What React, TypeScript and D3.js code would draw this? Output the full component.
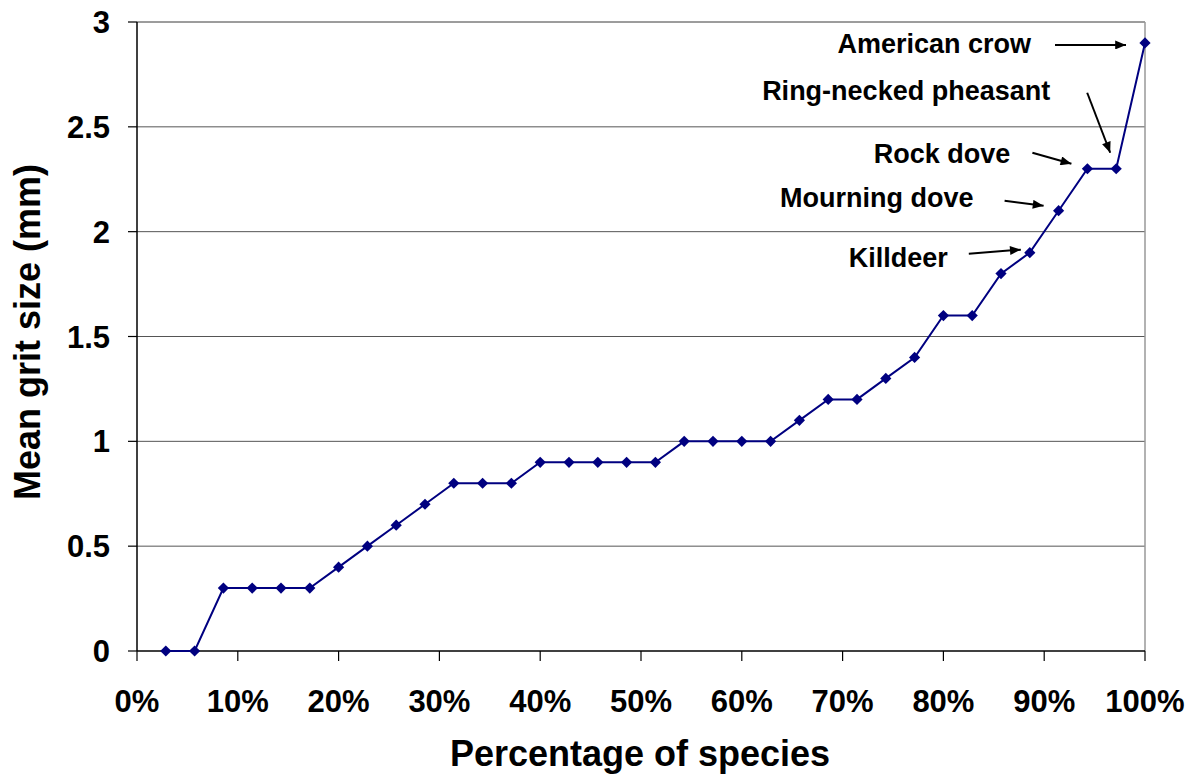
import React from "react";
import * as d3 from "d3";

// ---- data ----
const speciesRank: number[] = Array.from({ length: 35 }, (_, i) => i + 1);
const grit: number[] = [
  0, 0, 0.3, 0.3, 0.3, 0.3, 0.4, 0.5, 0.6, 0.7, 0.8, 0.8, 0.8, 0.9, 0.9, 0.9, 0.9, 0.9,
  1.0, 1.0, 1.0, 1.0, 1.1, 1.2, 1.2, 1.3, 1.4, 1.6, 1.6, 1.8, 1.9, 2.1, 2.3, 2.3, 2.9,
];
const xTicks: number[] = [0, 0.1, 0.2, 0.3, 0.4, 0.5, 0.6, 0.7, 0.8, 0.9, 1.0];
const yTicks: number[] = [0, 0.5, 1, 1.5, 2, 2.5, 3];
const annotLabels: string[] = ["American crow", "Ring-necked pheasant", "Rock dove", "Mourning dove", "Killdeer"];
const annotIndex: number[] = [34, 33, 32, 31, 30];

// ---- layout (not data) ----
const W = 1198, H = 784;
const M = { left: 137, right: 1145, top: 22, bottom: 651 };
// head offset from point, tail offset from head, text anchor (end) offset from tail
const annotLayout = [
  { hx: -19, hy: 2, tx: -71, ty: 0, lx: -24, ly: 8 },
  { hx: -6, hy: -16, tx: -23, ty: -60, lx: -37, ly: 7 },
  { hx: -16, hy: -5, tx: -39, ty: -11, lx: -22, ly: 10 },
  { hx: -15, hy: -5, tx: -39, ty: -5, lx: -31, ly: 6 },
  { hx: -9, hy: -3, tx: -52, ty: 4, lx: -21, ly: 13 },
];

const FONT = "'Liberation Sans', Arial, Helvetica, sans-serif";
const NAVY = "#000080";

export default function App() {
  const n = speciesRank.length;
  const x = d3.scaleLinear().domain([0, 1]).range([M.left, M.right]);
  const y = d3.scaleLinear().domain([0, 3]).range([M.bottom, M.top]);
  const pts = speciesRank.map((r, i) => [r / n, grit[i]] as [number, number]);
  const line = d3.line<[number, number]>().x((d) => x(d[0])).y((d) => y(d[1]));
  const diamond = d3.symbol().type(d3.symbolDiamond2).size(80)();
  const pct = d3.format(".0%");

  return (
    <svg width={W} height={H} style={{ position: "absolute", left: 0, top: 0, background: "#fff" }}>
      <defs>
        <marker id="ah2" viewBox="0 0 12 10" refX="12" refY="5" markerWidth="12" markerHeight="9" orient="auto" markerUnits="userSpaceOnUse">
          <path d="M0,0 L12,5 L0,10 z" fill="#000" />
        </marker>
      </defs>
      {/* gridlines */}
      {yTicks.filter((t) => t > 0).map((t) => (
        <line key={"g" + t} x1={M.left} x2={M.right} y1={y(t)} y2={y(t)} stroke="#555" strokeWidth={1} />
      ))}
      {/* plot border */}
      <line x1={M.right} x2={M.right} y1={M.top} y2={M.bottom} stroke="#999" strokeWidth={1.5} />
      <line x1={M.left} x2={M.right} y1={M.top} y2={M.top} stroke="#999" strokeWidth={1.5} />
      {/* y axis */}
      <line x1={M.left} x2={M.left} y1={M.top} y2={M.bottom} stroke="#000" strokeWidth={1.5} />
      {yTicks.map((t) => (
        <g key={"y" + t}>
          <line x1={M.left - 9} x2={M.left} y1={y(t)} y2={y(t)} stroke="#000" strokeWidth={1.2} />
          <text x={M.left - 27} y={y(t)} dy="0.36em" textAnchor="end" fontFamily={FONT} fontWeight="bold" fontSize={31}>
            {String(t)}
          </text>
        </g>
      ))}
      {/* x axis */}
      <line x1={M.left} x2={M.right} y1={M.bottom} y2={M.bottom} stroke="#000" strokeWidth={1.5} />
      {xTicks.map((t) => (
        <g key={"x" + t}>
          <line x1={x(t)} x2={x(t)} y1={M.bottom} y2={M.bottom + 10} stroke="#000" strokeWidth={1.2} />
          <text x={x(t)} y={M.bottom + 61} textAnchor="middle" fontFamily={FONT} fontWeight="bold" fontSize={31}>
            {pct(t)}
          </text>
        </g>
      ))}
      {/* axis titles */}
      <text x={640} y={766} textAnchor="middle" fontFamily={FONT} fontWeight="bold" fontSize={36}>
        Percentage of species
      </text>
      <text transform={`translate(40,332) rotate(-90)`} textAnchor="middle" fontFamily={FONT} fontWeight="bold" fontSize={36}>
        Mean grit size (mm)
      </text>
      {/* series */}
      <path d={line(pts) || ""} fill="none" stroke={NAVY} strokeWidth={2} />
      {pts.map((p, i) => (
        <path key={"m" + i} d={diamond || ""} transform={`translate(${x(p[0])},${y(p[1])})`} fill={NAVY} />
      ))}
      {/* annotations */}
      {annotLabels.map((lab, k) => {
        const p = pts[annotIndex[k]];
        const L = annotLayout[k];
        const hx = x(p[0]) + L.hx, hy = y(p[1]) + L.hy;
        const tx = hx + L.tx, ty = hy + L.ty;
        return (
          <g key={"a" + k}>
            <line x1={tx} y1={ty} x2={hx} y2={hy} stroke="#000" strokeWidth={2} markerEnd="url(#ah2)" />
            <text x={tx + L.lx} y={ty + L.ly} textAnchor="end" fontFamily={FONT} fontWeight="bold" fontSize={27}>
              {lab}
            </text>
          </g>
        );
      })}
    </svg>
  );
}
